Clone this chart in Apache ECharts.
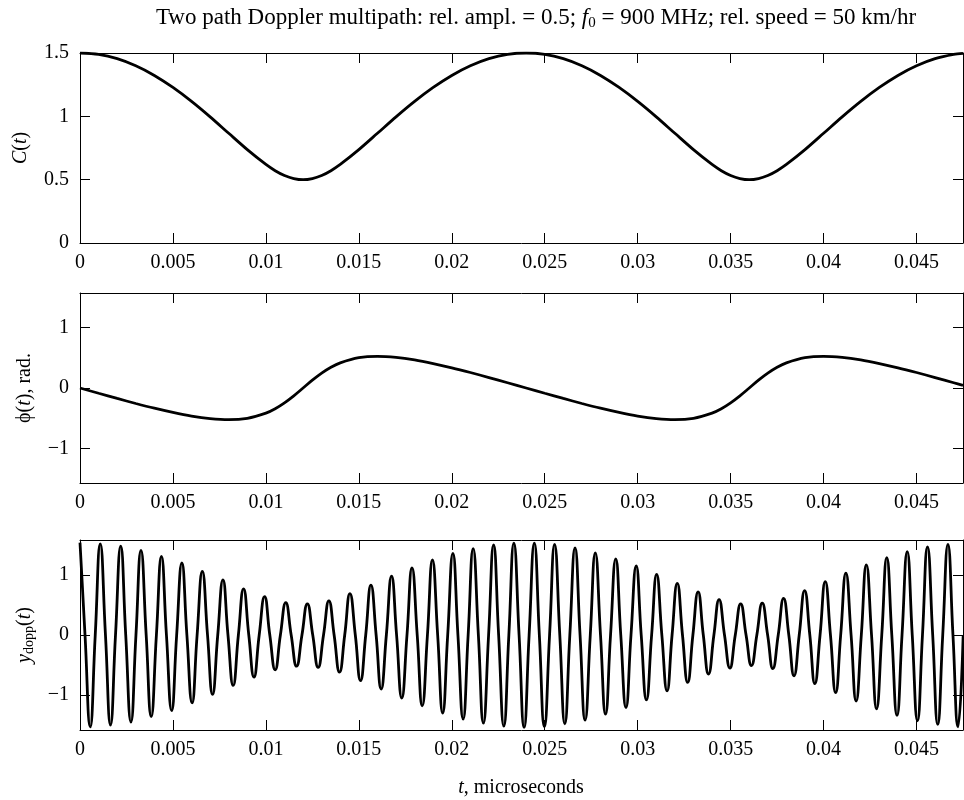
<!DOCTYPE html>
<html>
<head>
<meta charset="utf-8">
<script src="https://cdn.jsdelivr.net/npm/echarts@6/dist/echarts.min.js"></script>
<style>
html, body { margin: 0; padding: 0; background: #fff; }
#chart { width: 964px; height: 800px; }
</style>
</head>
<body>
<div id="chart"></div>
<script>
// time samples for the envelope C(t) and phase phi(t) panels
var envTimes = [
  0, 0.001, 0.002, 0.003, 0.004, 0.005, 0.006, 0.007, 0.008, 0.009, 0.010,
  0.0105, 0.011, 0.0115, 0.012, 0.0125, 0.013, 0.0135,
  0.014, 0.015, 0.016, 0.017, 0.018, 0.019, 0.020, 0.021, 0.022, 0.023, 0.024,
  0.025, 0.026, 0.027, 0.028, 0.029, 0.030, 0.031, 0.032, 0.033, 0.034,
  0.0345, 0.035, 0.0355, 0.036, 0.0365, 0.037, 0.0375,
  0.038, 0.039, 0.040, 0.041, 0.042, 0.043, 0.044, 0.045, 0.046, 0.047, 0.0475
];
var envelope = [
  1.5, 1.489, 1.455, 1.399, 1.323, 1.228, 1.118, 0.996, 0.866, 0.737, 0.620,
  0.571, 0.533, 0.509, 0.500, 0.509, 0.533, 0.571,
  0.620, 0.737, 0.866, 0.996, 1.118, 1.228, 1.323, 1.399, 1.455, 1.489, 1.5,
  1.489, 1.455, 1.399, 1.323, 1.228, 1.118, 0.996, 0.866, 0.737, 0.620,
  0.571, 0.533, 0.509, 0.500, 0.509, 0.533, 0.571,
  0.620, 0.737, 0.866, 0.996, 1.118, 1.228, 1.323, 1.399, 1.455, 1.489, 1.497
];
var phase = [
  0, -0.087, -0.173, -0.256, -0.334, -0.404, -0.464, -0.506, -0.524, -0.501, -0.415,
  -0.342, -0.245, -0.129, 0, 0.129, 0.245, 0.342,
  0.415, 0.501, 0.524, 0.506, 0.464, 0.404, 0.334, 0.256, 0.173, 0.087, 0,
  -0.087, -0.173, -0.256, -0.334, -0.404, -0.464, -0.506, -0.524, -0.501, -0.415,
  -0.342, -0.245, -0.129, 0, 0.129, 0.245, 0.342,
  0.415, 0.501, 0.524, 0.506, 0.464, 0.404, 0.334, 0.256, 0.173, 0.087, 0.044
];

// y_dopp(t): peaks, troughs and zero crossings
var doppTimes = [
  0, 0.00027, 0.00055, 0.00082, 0.00109, 0.00137, 0.00164, 0.00191,
  0.00219, 0.00246, 0.00274, 0.00301, 0.00328, 0.00356, 0.00383, 0.00411,
  0.00438, 0.00465, 0.00493, 0.00520, 0.00548, 0.00575, 0.00603, 0.00630,
  0.00658, 0.00686, 0.00713, 0.00741, 0.00769, 0.00796, 0.00824, 0.00852,
  0.00880, 0.00908, 0.00936, 0.00964, 0.00993, 0.01021, 0.01050, 0.01078,
  0.01107, 0.01136, 0.01165, 0.01194, 0.01223, 0.01252, 0.01281, 0.01310,
  0.01339, 0.01367, 0.01396, 0.01424, 0.01452, 0.01481, 0.01509, 0.01537,
  0.01565, 0.01593, 0.01620, 0.01648, 0.01676, 0.01703, 0.01731, 0.01759,
  0.01786, 0.01814, 0.01841, 0.01869, 0.01896, 0.01924, 0.01951, 0.01978,
  0.02006, 0.02033, 0.02061, 0.02088, 0.02115, 0.02143, 0.02170, 0.02198,
  0.02225, 0.02252, 0.02280, 0.02307, 0.02334, 0.02362, 0.02389, 0.02416,
  0.02444, 0.02471, 0.02498, 0.02526, 0.02553, 0.02581, 0.02608, 0.02635,
  0.02663, 0.02690, 0.02717, 0.02745, 0.02772, 0.02800, 0.02827, 0.02854,
  0.02882, 0.02909, 0.02937, 0.02964, 0.02992, 0.03019, 0.03047, 0.03075,
  0.03102, 0.03130, 0.03158, 0.03185, 0.03213, 0.03241, 0.03269, 0.03297,
  0.03325, 0.03353, 0.03381, 0.03410, 0.03438, 0.03467, 0.03496, 0.03525,
  0.03554, 0.03583, 0.03612, 0.03641, 0.03670, 0.03699, 0.03727, 0.03756,
  0.03785, 0.03813, 0.03841, 0.03869, 0.03898, 0.03926, 0.03953, 0.03981,
  0.04009, 0.04037, 0.04065, 0.04092, 0.04120, 0.04148, 0.04175, 0.04203,
  0.04230, 0.04258, 0.04285, 0.04313, 0.04340, 0.04367, 0.04395, 0.04422,
  0.04450, 0.04477, 0.04505, 0.04532, 0.04559, 0.04587, 0.04614, 0.04641,
  0.04669, 0.04696, 0.04723, 0.04751
];
var doppValues = [
  1.54, 0, -1.53, 0, 1.52, 0, -1.50, 0,
  1.48, 0, -1.45, 0, 1.41, 0, -1.36, 0,
  1.31, 0, -1.26, 0, 1.20, 0, -1.13, 0,
  1.06, 0, -0.99, 0, 0.92, 0, -0.84, 0,
  0.77, 0, -0.70, 0, 0.64, 0, -0.58, 0,
  0.54, 0, -0.52, 0, 0.52, 0, -0.54, 0,
  0.57, 0, -0.62, 0, 0.69, 0, -0.76, 0,
  0.83, 0, -0.90, 0, 0.98, 0, -1.05, 0,
  1.12, 0, -1.18, 0, 1.25, 0, -1.30, 0,
  1.36, 0, -1.40, 0, 1.44, 0, -1.47, 0,
  1.50, 0, -1.52, 0, 1.53, 0, -1.54, 0,
  1.53, 0, -1.53, 0, 1.51, 0, -1.48, 0,
  1.45, 0, -1.42, 0, 1.37, 0, -1.32, 0,
  1.27, 0, -1.21, 0, 1.15, 0, -1.08, 0,
  1.01, 0, -0.93, 0, 0.86, 0, -0.79, 0,
  0.72, 0, -0.65, 0, 0.59, 0, -0.55, 0,
  0.52, 0, -0.51, 0, 0.53, 0, -0.56, 0,
  0.61, 0, -0.68, 0, 0.74, 0, -0.81, 0,
  0.89, 0, -0.96, 0, 1.03, 0, -1.10, 0,
  1.17, 0, -1.23, 0, 1.29, 0, -1.34, 0,
  1.39, 0, -1.43, 0, 1.47, 0, -1.49, 0,
  1.51, 0, -1.53, 0
];

// tick labels
var xTicks = [0, 0.005, 0.01, 0.015, 0.02, 0.025, 0.03, 0.035, 0.04, 0.045];
var cTicks = [0, 0.5, 1, 1.5];
var phiTicks = [-1, 0, 1];
var doppTicks = [-1, 0, 1];

var FONT = 'Liberation Serif';
var chart = echarts.init(document.getElementById('chart'));

var gridTops = [53, 293, 540];
var grids = gridTops.map(function (top) {
  return { left: 80, top: top, width: 883, height: 190 };
});

function fmtNum(v) {
  var s = String(+(+v).toFixed(4));
  return s.replace('-', '\u2212');
}

var xAxes = [];
var yAxes = [];
var yRanges = [[0, 1.5], [-1.5708, 1.5708], [-1.583, 1.583]];
var yTickSets = [cTicks, phiTicks, doppTicks];
var yNames = [
  '{i|C}({i|t})',
  '\u03d5({i|t}), rad.',
  '{i|y}{s|dopp}({i|t})'
];

for (var g = 0; g < 3; g++) {
  ['bottom', 'top'].forEach(function (pos) {
    xAxes.push({
      type: 'value', gridIndex: g, position: pos,
      min: 0, max: 0.0475,
      axisLine: { onZero: false, lineStyle: { color: '#000', width: 1 } },
      axisTick: { inside: true, length: 10, customValues: xTicks, lineStyle: { color: '#000' } },
      axisLabel: {
        show: pos === 'bottom', customValues: xTicks, formatter: fmtNum,
        fontFamily: FONT, fontSize: 20, color: '#000', margin: 10
      },
      splitLine: { show: false }
    });
  });
  ['left', 'right'].forEach(function (pos) {
    var ax = {
      type: 'value', gridIndex: g, position: pos,
      min: yRanges[g][0], max: yRanges[g][1],
      axisLine: { onZero: false, lineStyle: { color: '#000', width: 1 } },
      axisTick: { inside: true, length: 10, customValues: yTickSets[g], lineStyle: { color: '#000' } },
      axisLabel: {
        show: pos === 'left', customValues: yTickSets[g], formatter: fmtNum,
        fontFamily: FONT, fontSize: 20, color: '#000', margin: 11
      },
      splitLine: { show: false }
    };
    if (pos === 'left') {
      ax.name = yNames[g];
      ax.nameLocation = 'middle';
      ax.nameGap = 40;
      ax.nameTextStyle = {
        fontFamily: FONT, fontSize: 20, color: '#000', lineHeight: 24,
        rich: {
          i: { fontFamily: FONT, fontSize: 20, fontStyle: 'italic', color: '#000', lineHeight: 24 },
          s: { fontFamily: FONT, fontSize: 14, color: '#000', lineHeight: 12, verticalAlign: 'bottom' }
        }
      };
    }
    yAxes.push(ax);
  });
}

function pairs(xs, ys) {
  return xs.map(function (x, i) { return [x, ys[i]]; });
}

var lineStyle = { color: '#000', width: 2.8 };

var option = {
  animation: false,
  backgroundColor: '#fff',
  grid: grids,
  xAxis: xAxes,
  yAxis: yAxes,
  graphic: [
    {
      type: 'text', x: 536, y: 18,
      style: {
        text: 'Two path Doppler multipath: rel. ampl. = 0.5; {i|f}{s|0} = 900 MHz; rel. speed = 50 km/hr',
        align: 'center', verticalAlign: 'middle',
        fontFamily: FONT, fontSize: 23, fill: '#000', lineHeight: 26,
        rich: {
          i: { fontFamily: FONT, fontSize: 23, fontStyle: 'italic', fill: '#000', lineHeight: 26 },
          s: { fontFamily: FONT, fontSize: 15, fill: '#000', lineHeight: 14, verticalAlign: 'bottom' }
        }
      }
    },
    {
      type: 'text', x: 521, y: 788,
      style: {
        text: '{i|t}, microseconds',
        align: 'center', verticalAlign: 'middle',
        fontFamily: FONT, fontSize: 20, fill: '#000',
        rich: { i: { fontFamily: FONT, fontSize: 20, fontStyle: 'italic', fill: '#000' } }
      }
    }
  ],
  series: [
    {
      type: 'line', xAxisIndex: 0, yAxisIndex: 0,
      data: pairs(envTimes, envelope),
      showSymbol: false, smooth: 0.3, lineStyle: lineStyle
    },
    {
      type: 'line', xAxisIndex: 2, yAxisIndex: 2,
      data: pairs(envTimes, phase),
      showSymbol: false, smooth: 0.3, lineStyle: lineStyle
    },
    {
      type: 'line', xAxisIndex: 4, yAxisIndex: 4,
      data: pairs(doppTimes, doppValues),
      showSymbol: false, smooth: 0.5, lineStyle: lineStyle
    }
  ]
};

chart.setOption(option);
</script>
</body>
</html>
